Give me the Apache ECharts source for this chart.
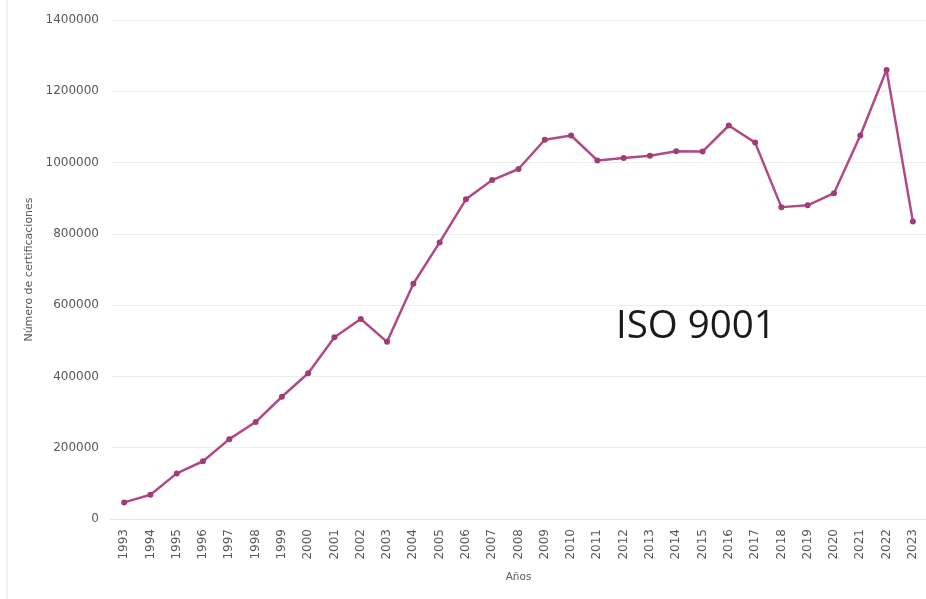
<!DOCTYPE html>
<html><head><meta charset="utf-8">
<script src="https://cdn.jsdelivr.net/npm/echarts@6/dist/echarts.min.js"></script>
<style>html,body{margin:0;padding:0;background:#fff}#c{width:926px;height:599px}</style>
</head><body><div id="c"></div>
<script>
var years = ['1993','1994','1995','1996','1997','1998','1999','2000','2001','2002','2003','2004','2005','2006','2007','2008','2009','2010','2011','2012','2013','2014','2015','2016','2017','2018','2019','2020','2021','2022','2023'];
var certificaciones = [46571,68000,128000,162000,224000,272000,343000,409000,510000,561000,497000,660000,776000,897000,951000,982000,1064000,1076000,1006000,1013000,1019000,1032000,1031000,1104000,1056000,875000,880000,914000,1076000,1260000,835000];
var yTicks = [0,200000,400000,600000,800000,1000000,1200000,1400000];

var chart = echarts.init(document.getElementById('c'));
chart.setOption({
  animation:false,
  grid:{left:111,right:0,top:20,bottom:80,containLabel:false},
  xAxis:{type:'category',data:years,boundaryGap:true,
    name:'Años',nameLocation:'middle',nameGap:53,
    nameTextStyle:{fontSize:10.5,color:'#595959',fontFamily:'DejaVu Sans'},
    axisLine:{lineStyle:{color:'#e4e4e4'}},axisTick:{show:false},
    axisLabel:{rotate:90,fontSize:12,color:'#595959',margin:10,fontFamily:'DejaVu Sans'}},
  yAxis:{type:'value',min:yTicks[0],max:yTicks[yTicks.length-1],interval:200000,
    name:'Número de certificaciones',nameLocation:'middle',nameGap:73,
    nameTextStyle:{fontSize:11,color:'#595959',fontFamily:'DejaVu Sans'},
    axisLine:{show:false},axisTick:{show:false},
    axisLabel:{fontSize:12,color:'#595959',margin:12,fontFamily:'DejaVu Sans',formatter:function(v){return String(v);}},
    splitLine:{lineStyle:{color:'#ececec'}}},
  graphic:[
    {type:'line',shape:{x1:7,y1:0,x2:7,y2:599},style:{stroke:'#e2e2e2',lineWidth:1}},
    {type:'text',left:616,top:308,style:{text:'ISO 9001',fontSize:38.5,fill:'#1a1a1a',fontFamily:'Open Sans'}}
  ],
  series:[{type:'line',data:certificaciones,symbol:'circle',symbolSize:6,
    lineStyle:{color:'#b04a86',width:2.5},itemStyle:{color:'#a03c78'}}]
});
</script></body></html>
